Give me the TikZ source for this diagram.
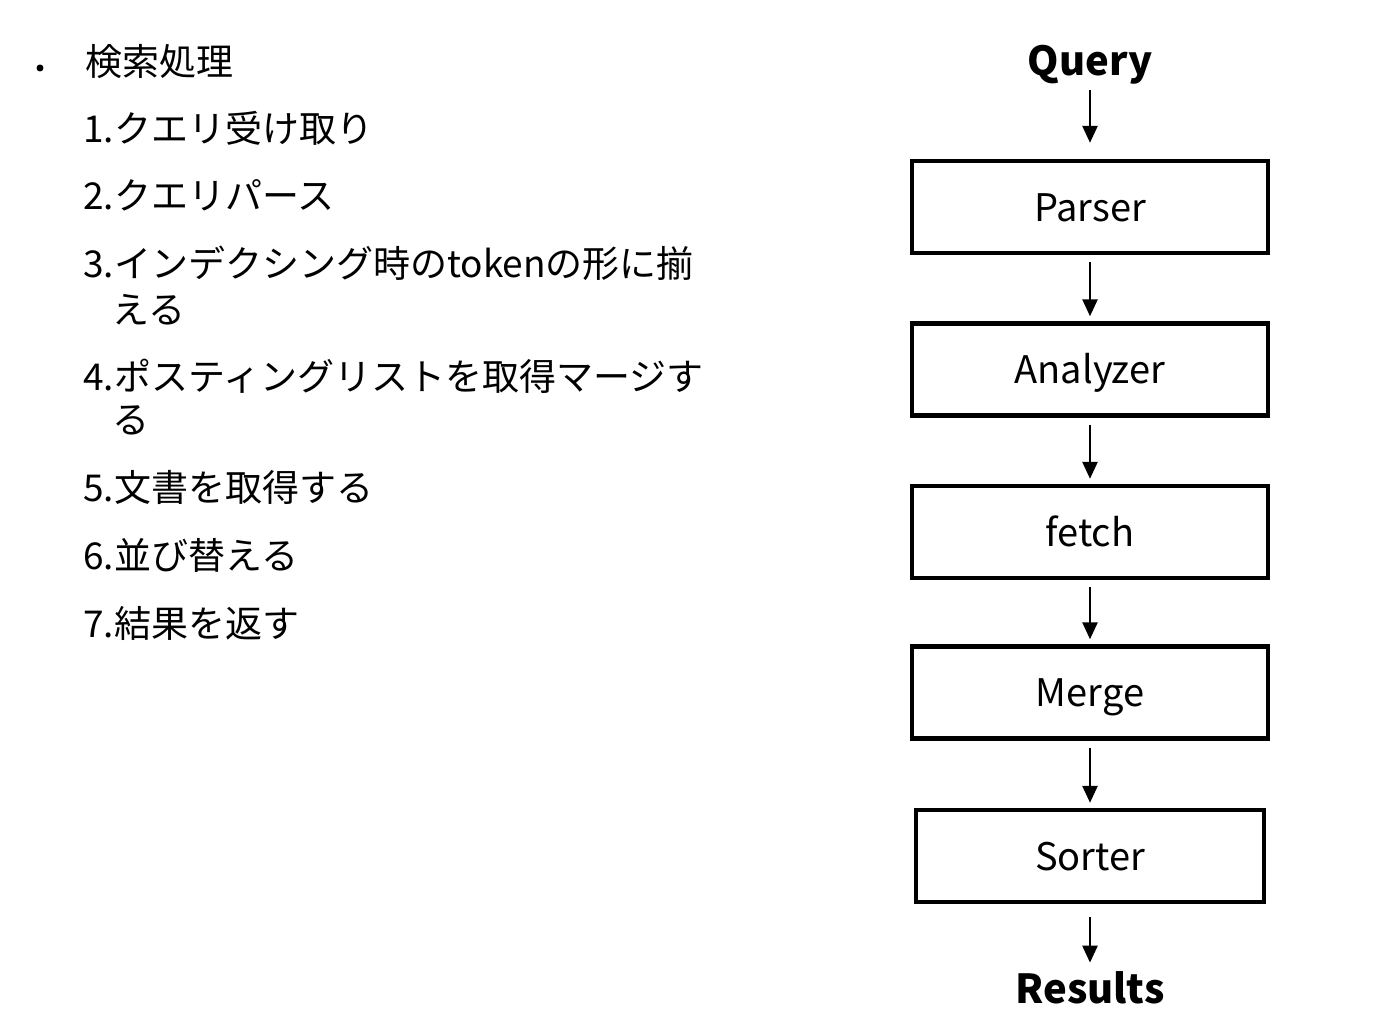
\documentclass[tikz,border=0pt]{standalone}
\usepackage{fontspec}
\setmainfont{Noto Sans CJK JP}
\usetikzlibrary{arrows.meta}
\begin{document}
\begin{tikzpicture}[x=0.5pt,y=-0.5pt,
  box/.style={draw,line width=2.2pt,minimum width=178pt,minimum height=46pt,inner sep=0pt,font=\fontsize{19}{22}\selectfont},
  lbl/.style={inner sep=0pt,font=\fontsize{19}{22}\selectfont},
  term/.style={anchor=base,inner sep=0pt,font=\fontsize{20}{22}\selectfont\bfseries},
  item/.style={anchor=base west,inner sep=0pt,font=\fontsize{18.5}{22}\selectfont},
  flow/.style={-{Triangle[length=8.5pt,width=7.5pt]},line width=1.3pt}]
\useasboundingbox[fill=white] (0,0) rectangle (1398,1016);

% left list
\fill (40,68) circle (3.5);
\node[item] (head) at (85,76) {検索処理};
\node[item] (i1) at (83,143) {1.クエリ受け取り};
\node[item] (i2) at (83,210) {2.クエリパース};
\node[item] (i3) at (83,278) {3.インデクシング時のtokenの形に揃};
\node[item] (i3b) at (112,323) {える};
\node[item] (i4) at (83,390) {4.ポスティングリストを取得マージす};
\node[item] (i4b) at (112,433) {る};
\node[item] (i5) at (83,501) {5.文書を取得する};
\node[item] (i6) at (83,569) {6.並び替える};
\node[item] (i7) at (83,637) {7.結果を返す};

% flow
\node[term] (query) at (1090,76) {Query};
\node[box] (parser) at (1090,207) {};
\node[box] (analyzer) at (1090,369.5) {};
\node[box] (fetch) at (1090,532) {};
\node[box] (merge) at (1090,692.5) {};
\node[box,minimum width=174pt] (sorter) at (1090,856) {};
\node[lbl,anchor=base] (tparser) at (1090,222) {Parser};
\node[lbl,anchor=base] (tanalyzer) at (1090,384) {Analyzer};
\node[lbl,anchor=base] (tfetch) at (1090,546) {fetch};
\node[lbl,anchor=base] (tmerge) at (1090,706) {Merge};
\node[lbl,anchor=base] (tsorter) at (1090,870) {Sorter};
\node[term] (results) at (1090,1003) {Results};

\draw[flow] ([yshift=-2.5pt]query.south) -- ([yshift=8pt]parser.north);
\draw[flow] ([yshift=-3.5pt]parser.south) -- ([yshift=2.5pt]analyzer.north);
\draw[flow] ([yshift=-3.5pt]analyzer.south) -- ([yshift=2.5pt]fetch.north);
\draw[flow] ([yshift=-3.5pt]fetch.south) -- ([yshift=2.5pt]merge.north);
\draw[flow] ([yshift=-3.5pt]merge.south) -- ([yshift=2.5pt]sorter.north);
\draw[flow] ([yshift=-6.5pt]sorter.south) -- ([yshift=4pt]results.north);
\end{tikzpicture}
\end{document}
